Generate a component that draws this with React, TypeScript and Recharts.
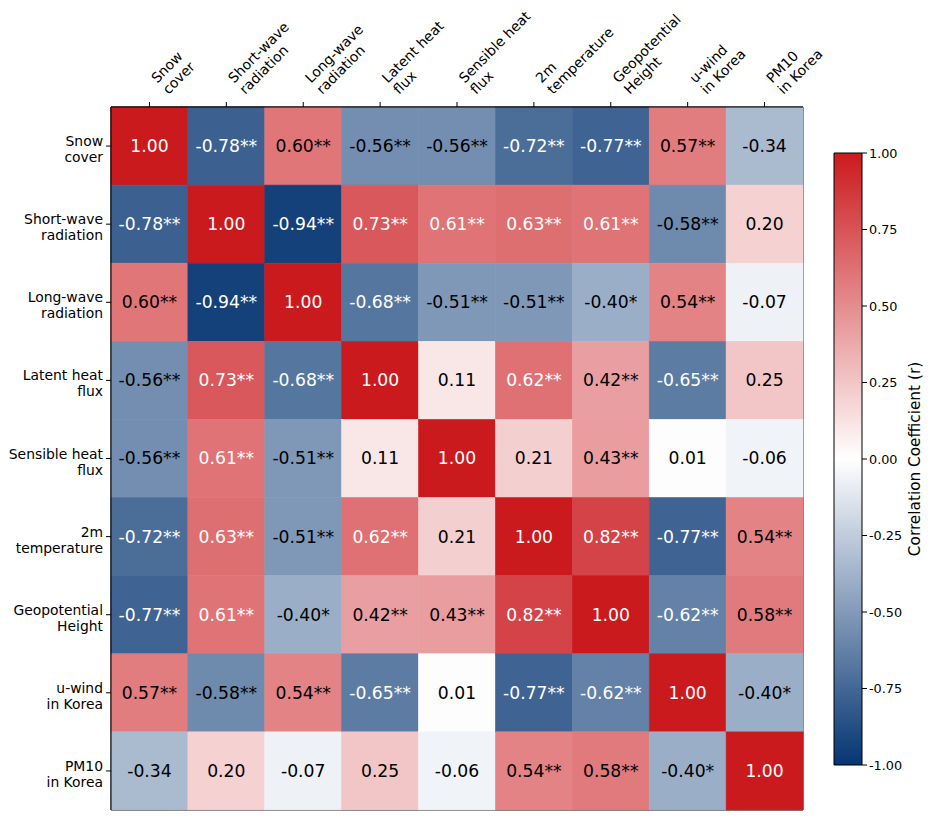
import React from "react";
import {
  Bar,
  BarChart,
  Label,
  ReferenceArea,
  XAxis,
  YAxis,
} from "recharts";

const FONT = "DejaVu Sans";

const varLabels = [
  "Snow\ncover",
  "Short-wave\nradiation",
  "Long-wave\nradiation",
  "Latent heat\nflux",
  "Sensible heat\nflux",
  "2m\ntemperature",
  "Geopotential\nHeight",
  "u-wind\nin Korea",
  "PM10\nin Korea",
];

const corr = [
  [1.0, -0.78, 0.6, -0.56, -0.56, -0.72, -0.77, 0.57, -0.34],
  [-0.78, 1.0, -0.94, 0.73, 0.61, 0.63, 0.61, -0.58, 0.2],
  [0.6, -0.94, 1.0, -0.68, -0.51, -0.51, -0.4, 0.54, -0.07],
  [-0.56, 0.73, -0.68, 1.0, 0.11, 0.62, 0.42, -0.65, 0.25],
  [-0.56, 0.61, -0.51, 0.11, 1.0, 0.21, 0.43, 0.01, -0.06],
  [-0.72, 0.63, -0.51, 0.62, 0.21, 1.0, 0.82, -0.77, 0.54],
  [-0.77, 0.61, -0.4, 0.42, 0.43, 0.82, 1.0, -0.62, 0.58],
  [0.57, -0.58, 0.54, -0.65, 0.01, -0.77, -0.62, 1.0, -0.4],
  [-0.34, 0.2, -0.07, 0.25, -0.06, 0.54, 0.58, -0.4, 1.0],
];

// significance markers (p-value stars), same layout as corr
const sig = [
  ["", "**", "**", "**", "**", "**", "**", "**", ""],
  ["**", "", "**", "**", "**", "**", "**", "**", ""],
  ["**", "**", "", "**", "**", "**", "*", "**", ""],
  ["**", "**", "**", "", "", "**", "**", "**", ""],
  ["**", "**", "**", "", "", "", "**", "", ""],
  ["**", "**", "**", "**", "", "", "**", "**", "**"],
  ["**", "**", "*", "**", "**", "**", "", "**", "**"],
  ["**", "**", "**", "**", "", "**", "**", "", "*"],
  ["", "", "", "", "", "**", "**", "*", ""],
];

const colTicks = [0.5, 1.5, 2.5, 3.5, 4.5, 5.5, 6.5, 7.5, 8.5];
const cbTicks = [-1, -0.75, -0.5, -0.25, 0, 0.25, 0.5, 0.75, 1];

const RED = [203, 26, 30];
const NAVY = [5, 53, 114];

function colorFor(r: number) {
  const end = r >= 0 ? RED : NAVY;
  const t = Math.min(1, Math.abs(r));
  const c = end.map((v) => Math.round(255 + (v - 255) * t));
  return `rgb(${c[0]},${c[1]},${c[2]})`;
}

const rows = varLabels.map((name, i) => {
  const row: Record<string, any> = { name };
  corr[i].forEach((_, j) => (row[`c${j}`] = 1));
  return row;
});

const cbData = [{ name: "cb", range: [-1, 1] }];

function TopTick({ x, y, payload }: any) {
  const idx = Math.round(payload.value - 0.5);
  const lines = (varLabels[idx] || "").split("\n");
  return (
    <g transform={`translate(${x + 19},${y - 5}) rotate(-45)`}>
      <text fontFamily={FONT} fontSize={13.9} fill="#000" textAnchor="start">
        {lines.map((l, k) => (
          <tspan key={k} x={0} y={-(lines.length - 1 - k) * 16}>
            {l}
          </tspan>
        ))}
      </text>
    </g>
  );
}

function LeftTick({ x, y, payload }: any) {
  const lines = String(payload.value).split("\n");
  return (
    <text fontFamily={FONT} fontSize={13.9} fill="#000" textAnchor="end">
      {lines.map((l, k) => (
        <tspan key={k} x={x} y={y + k * 16}>
          {l}
        </tspan>
      ))}
    </text>
  );
}

function makeCell(col: number) {
  return (props: any) => {
    const { x, y, width, height, index } = props;
    const r = corr[index][col];
    const fill = colorFor(r);
    return (
      <g>
        <rect
          x={x}
          y={y}
          width={width}
          height={height}
          fill={fill}
          stroke={fill}
          strokeWidth={0.6}
        />
        <text
          x={x + width / 2}
          y={y + height / 2}
          textAnchor="middle"
          dominantBaseline="central"
          fontFamily={FONT}
          fontSize={17.2}
          fill={Math.abs(r) > 0.6 ? "#fff" : "#000"}
        >
          {r.toFixed(2) + sig[index][col]}
        </text>
      </g>
    );
  };
}

export default function App() {
  return (
    <div style={{ position: "absolute", left: 0, top: 0, width: 931, height: 819, background: "#fff" }}>
      <div style={{ position: "absolute", left: 0, top: 0 }}>
        <BarChart
          width={931}
          height={819}
          data={rows}
          layout="vertical"
          margin={{ top: 0, left: 0, right: 128, bottom: 9 }}
          barCategoryGap={0}
        >
          <XAxis
            type="number"
            orientation="top"
            domain={[0, 9]}
            ticks={colTicks}
            height={107}
            tickSize={5}
            tickMargin={2}
            interval={0}
            axisLine={{ stroke: "#000" }}
            tickLine={{ stroke: "#000" }}
            tick={<TopTick />}
          />
          <YAxis
            type="category"
            dataKey="name"
            width={111}
            tickSize={5}
            tickMargin={3}
            interval={0}
            axisLine={{ stroke: "#000" }}
            tickLine={{ stroke: "#000" }}
            tick={<LeftTick />}
          />
          {corr[0].map((_, j) => (
            <Bar
              key={j}
              dataKey={`c${j}`}
              stackId="a"
              isAnimationActive={false}
              shape={makeCell(j)}
            />
          ))}
          <ReferenceArea x1={0} x2={9} fill="none" stroke="#000" strokeWidth={1} fillOpacity={0} />
        </BarChart>
      </div>
      <div style={{ position: "absolute", left: 800, top: 0 }}>
        <BarChart
          width={131}
          height={819}
          data={cbData}
          margin={{ top: 153, left: 34, right: 0, bottom: 54 }}
          barCategoryGap={0}
        >
          <defs>
            <linearGradient id="cbGrad" x1="0" y1="0" x2="0" y2="1">
              <stop offset="0%" stopColor={colorFor(1)} />
              <stop offset="50%" stopColor="#ffffff" />
              <stop offset="100%" stopColor={colorFor(-1)} />
            </linearGradient>
          </defs>
          <XAxis dataKey="name" type="category" hide />
          <YAxis
            type="number"
            orientation="right"
            domain={[-1, 1]}
            ticks={cbTicks}
            width={69}
            tickSize={5}
            tickMargin={2}
            interval={0}
            axisLine={false}
            tickLine={{ stroke: "#000" }}
            tick={{ fontFamily: FONT, fontSize: 12.8, fill: "#000" }}
            tickFormatter={(v: number) => v.toFixed(2)}
          >
            <Label
              content={({ viewBox }: any) => {
                const cx = viewBox.x + 53;
                const cy = viewBox.y + viewBox.height / 2;
                return (
                  <text
                    x={cx}
                    y={cy}
                    transform={`rotate(-90,${cx},${cy})`}
                    textAnchor="middle"
                    dominantBaseline="central"
                    fontFamily={FONT}
                    fontSize={15.3}
                    fill="#000"
                  >
                    Correlation Coefficient (r)
                  </text>
                );
              }}
            />
          </YAxis>
          <Bar
            dataKey="range"
            fill="url(#cbGrad)"
            stroke="#000"
            strokeWidth={1}
            isAnimationActive={false}
          />
        </BarChart>
      </div>
    </div>
  );
}
